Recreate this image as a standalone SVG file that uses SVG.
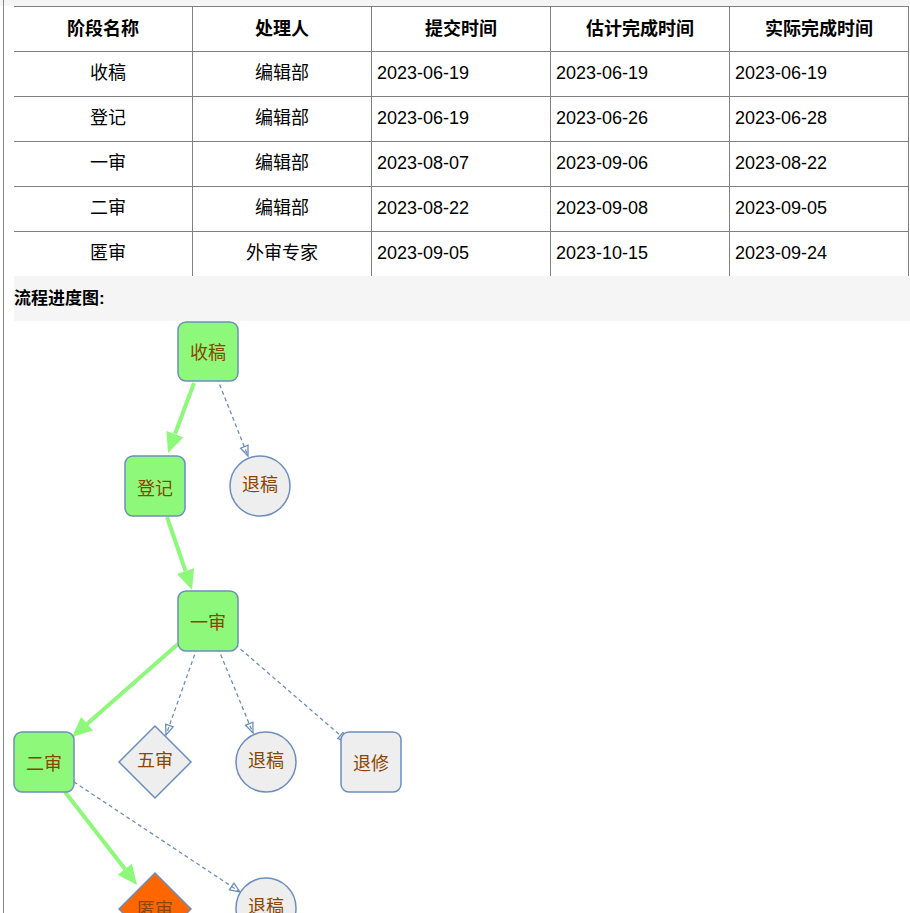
<svg xmlns="http://www.w3.org/2000/svg" width="910" height="913" viewBox="0 0 910 913">
<defs>
<style>
.cell{font-family:"Liberation Sans","Noto Sans CJK SC",sans-serif;font-size:18px;fill:#000}
.hd{font-weight:bold;text-anchor:middle}
.c{text-anchor:middle}
.grid{stroke:#808080;stroke-width:1;fill:none}
.lbl{font-family:"Noto Sans CJK SC",sans-serif;font-size:18px;fill:#8b4500;text-anchor:middle}
.done{fill:#8ef87a;stroke:#6c8ebf;stroke-width:1.5}
.other{fill:#eeeeee;stroke:#6c8ebf;stroke-width:1.5}
.cur{fill:#ff6600;stroke:#6c8ebf;stroke-width:1.5}
.main{stroke:#8ef87a;stroke-width:4;fill:none}
.head{fill:#8ef87a}
.dash{stroke:#6c8ebf;stroke-width:1.3;stroke-dasharray:4 3;fill:none;marker-end:url(#open)}
</style>
<marker id="open" markerUnits="userSpaceOnUse" markerWidth="14" markerHeight="12" refX="11" refY="5" orient="auto">
<path d="M1,1 L11,5 L1,9 Z" fill="none" stroke="#6c8ebf" stroke-width="1.3"/>
</marker>
</defs>
<rect x="0" y="0" width="910" height="913" fill="#ffffff"/>
<rect x="0" y="0" width="910" height="6" fill="#f5f5f5"/>
<line x1="3.5" y1="0" x2="3.5" y2="913" stroke="#888888" stroke-width="1"/>
<g id="table">
<rect x="14" y="6" width="895" height="270" fill="#ffffff"/>
<g class="grid">
<line x1="14" y1="6.5" x2="909" y2="6.5"/>
<line x1="14" y1="51.5" x2="909" y2="51.5"/>
<line x1="14" y1="96.5" x2="909" y2="96.5"/>
<line x1="14" y1="141.5" x2="909" y2="141.5"/>
<line x1="14" y1="186.5" x2="909" y2="186.5"/>
<line x1="14" y1="231.5" x2="909" y2="231.5"/>
<line x1="192.5" y1="6" x2="192.5" y2="276"/>
<line x1="371.5" y1="6" x2="371.5" y2="276"/>
<line x1="550.5" y1="6" x2="550.5" y2="276"/>
<line x1="729.5" y1="6" x2="729.5" y2="276"/>
<line x1="908.5" y1="6" x2="908.5" y2="276"/>
</g>
<g class="cell hd">
<text x="103" y="35">阶段名称</text>
<text x="282" y="35">处理人</text>
<text x="461" y="35">提交时间</text>
<text x="640" y="35">估计完成时间</text>
<text x="819" y="35">实际完成时间</text>
</g>
<g class="cell c">
<text x="108" y="79">收稿</text><text x="282" y="79">编辑部</text>
<text x="108" y="124">登记</text><text x="282" y="124">编辑部</text>
<text x="108" y="169">一审</text><text x="282" y="169">编辑部</text>
<text x="108" y="214">二审</text><text x="282" y="214">编辑部</text>
<text x="108" y="259">匿审</text><text x="282" y="259">外审专家</text>
</g>
<g class="cell">
<text x="377" y="79">2023-06-19</text><text x="556" y="79">2023-06-19</text><text x="735" y="79">2023-06-19</text>
<text x="377" y="124">2023-06-19</text><text x="556" y="124">2023-06-26</text><text x="735" y="124">2023-06-28</text>
<text x="377" y="169">2023-08-07</text><text x="556" y="169">2023-09-06</text><text x="735" y="169">2023-08-22</text>
<text x="377" y="214">2023-08-22</text><text x="556" y="214">2023-09-08</text><text x="735" y="214">2023-09-05</text>
<text x="377" y="259">2023-09-05</text><text x="556" y="259">2023-10-15</text><text x="735" y="259">2023-09-24</text>
</g>
</g>
<g id="title">
<rect x="14" y="276" width="896" height="45" fill="#f5f5f5"/>
<text x="14" y="304" font-family="Liberation Sans,'Noto Sans CJK SC',sans-serif" font-size="17" font-weight="bold" fill="#000">流程进度图:</text>
</g>
<g id="connectors">
<line class="main" x1="194" y1="383" x2="175" y2="434"/>
<polygon class="head" points="183.4,437.4 166.5,431.1 168,453"/>
<line class="main" x1="167" y1="517" x2="185.5" y2="571"/>
<polygon class="head" points="194,568.2 177,574 192,590"/>
<line class="main" x1="178" y1="644" x2="87" y2="724"/>
<polygon class="head" points="93,730.6 81.1,717 72,737"/>
<line class="main" x1="65" y1="792" x2="125" y2="869"/>
<polygon class="head" points="131.9,863.7 117.7,874.7 137,885"/>
<line class="dash" x1="217" y1="378" x2="248" y2="456"/>
<line class="dash" x1="197" y1="648" x2="166" y2="735"/>
<line class="dash" x1="218" y1="648" x2="253" y2="733"/>
<line class="dash" x1="230" y1="640" x2="348" y2="742"/>
<line class="dash" x1="68" y1="778" x2="240" y2="892"/>
</g>
<g id="n-shougao"><rect class="done" x="178" y="322" width="60" height="59" rx="8"/><text class="lbl" x="208" y="359">收稿</text></g>
<g id="n-dengji"><rect class="done" x="125" y="456" width="60" height="60" rx="8"/><text class="lbl" x="155" y="495">登记</text></g>
<g id="n-tuigao1"><circle class="other" cx="260" cy="486" r="30"/><text class="lbl" x="260" y="491">退稿</text></g>
<g id="n-yishen"><rect class="done" x="178" y="591" width="60" height="60" rx="8"/><text class="lbl" x="208" y="629">一审</text></g>
<g id="n-ershen"><rect class="done" x="14" y="732" width="60" height="60" rx="8"/><text class="lbl" x="44" y="770">二审</text></g>
<g id="n-wushen"><polygon class="other" points="155,726 191,762 155,798 119,762"/><text class="lbl" x="155" y="767">五审</text></g>
<g id="n-tuigao2"><circle class="other" cx="266" cy="762" r="30"/><text class="lbl" x="266" y="767">退稿</text></g>
<g id="n-tuixiu"><rect class="other" x="341" y="732" width="60" height="60" rx="8"/><text class="lbl" x="371" y="770">退修</text></g>
<g id="n-nishen"><polygon class="cur" points="155,873 191,909 155,945 119,909"/><text class="lbl" x="155" y="916">匿审</text></g>
<g id="n-tuigao3"><circle class="other" cx="266" cy="908" r="30"/><text class="lbl" x="266" y="913">退稿</text></g>
</svg>
